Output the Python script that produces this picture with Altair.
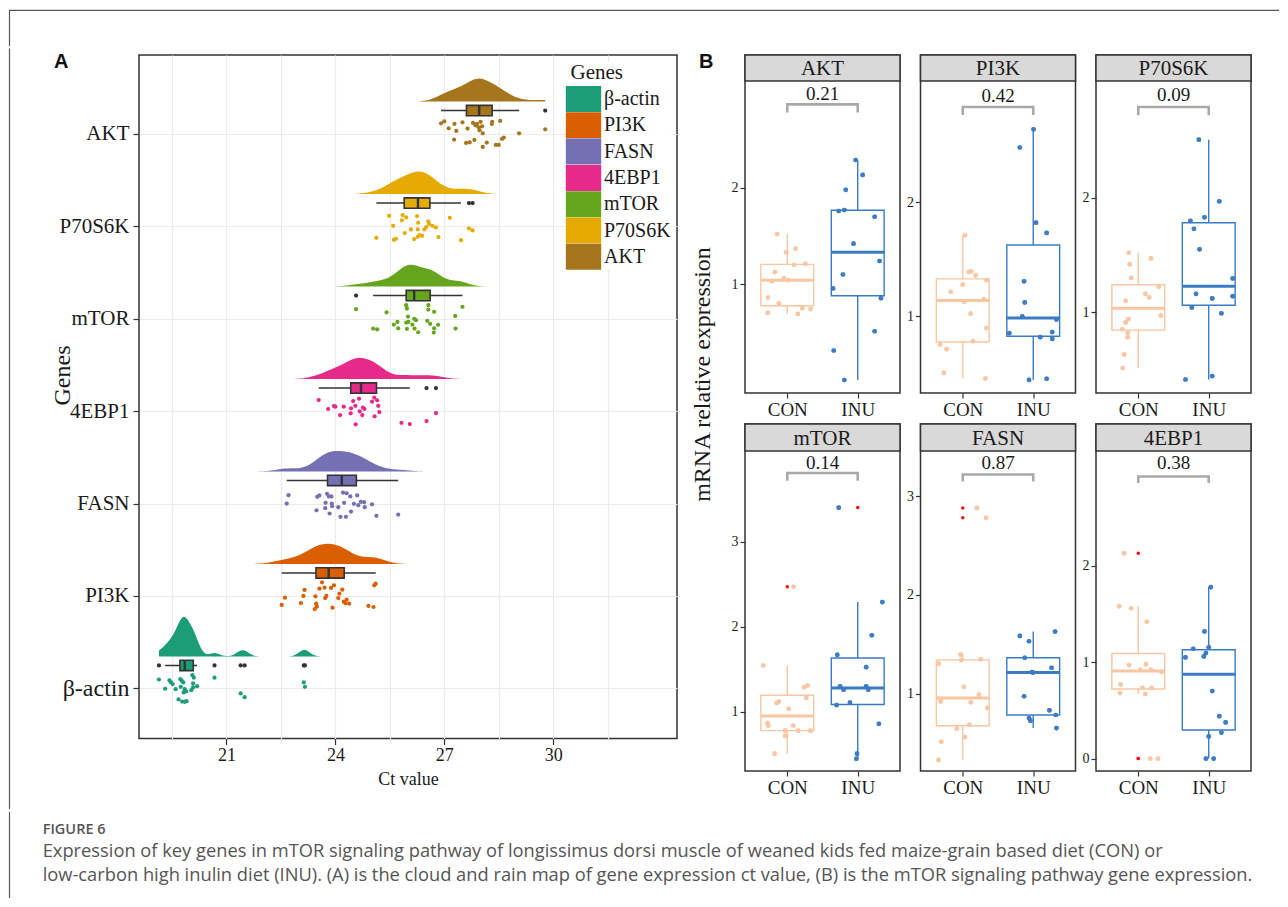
import json
import altair as alt
import pandas as pd

SERIF = "Liberation Serif"
SANS = "Liberation Sans"
INK = "#1a1a1a"
DARK = "#333333"

# ---------------- Panel A: Ct values ----------------
GENES_A = ["β-actin", "PI3K", "FASN", "4EBP1", "mTOR", "P70S6K", "AKT"]
COLORS_A = ["#1B9E77", "#D95F02", "#7570B3", "#E7298A", "#66A61E", "#E6AB02", "#A6761D"]

AKT_CT = [26.91, 27.00, 27.12, 27.28, 27.33, 27.50, 27.64, 27.27, 27.60, 27.70, 27.83, 27.79, 27.86, 27.90, 28.00,
          27.95, 28.04, 27.97, 28.06, 28.17, 28.06, 28.32, 28.31, 28.54, 28.59, 28.64, 28.42, 28.50, 29.06, 29.78]
AKT_JIT = [0.111, 0.133, 0.057, 0.105, 0.029, 0.122, 0.054, -0.065, -0.101, -0.094, -0.068, 0.116, 0.090, 0.105, 0.127,
           0.068, 0.079, 0.036, 0.003, -0.097, -0.144, 0.127, 0.105, 0.137, -0.057, -0.043, -0.122, -0.122, 0.003, 0.047]
P70_CT = [25.48, 25.85, 25.95, 26.25, 25.83, 25.59, 26.28, 26.56, 26.58, 26.50, 26.67, 26.77, 27.15, 26.08, 26.27,
          26.45, 25.91, 25.13, 25.61, 25.67, 26.17, 26.27, 26.32, 26.39, 26.84, 27.46, 27.68, 27.78]
P70_JIT = [0.111, 0.119, 0.094, 0.108, 0.062, 0.003, 0.036, 0.051, 0.022, -0.011, 0.003, -0.014, 0.090, -0.036, -0.036,
           -0.036, -0.076, -0.127, -0.148, -0.137, -0.141, -0.116, -0.097, -0.105, -0.119, -0.152, -0.025, -0.047]
MTOR_CT = [24.57, 25.41, 25.04, 25.15, 25.61, 25.71, 25.73, 25.95, 25.97, 26.00, 25.95, 26.01, 25.97, 26.12, 26.17,
           26.22, 26.18, 26.28, 26.56, 26.56, 26.72, 26.53, 26.61, 26.83, 26.72, 26.71, 27.30, 27.50, 27.31]
MTOR_JIT = [0.101, 0.068, -0.108, -0.116, -0.065, -0.036, -0.105, 0.144, 0.108, 0.022, -0.043, -0.036, -0.111, -0.065,
            -0.003, -0.018, -0.108, -0.148, 0.144, 0.097, 0.073, -0.025, -0.057, -0.068, -0.105, -0.152, 0.029, 0.127, -0.108]
EBP_CT = [23.54, 23.80, 23.96, 24.00, 24.13, 24.23, 24.43, 24.42, 24.49, 24.55, 24.65, 24.67, 24.74, 24.76, 24.80,
          24.56, 25.01, 25.07, 25.15, 25.18, 25.21, 25.08, 25.82, 26.05, 26.51, 26.77]
EBP_JIT = [0.119, 0.022, 0.054, 0.047, -0.043, 0.047, 0.029, -0.025, 0.108, 0.057, 0.133, -0.003, -0.043, 0.036, 0.022,
           -0.144, 0.101, 0.144, 0.116, 0.057, -0.011, -0.057, -0.127, -0.141, -0.108, -0.022]
FASN_CT = [22.71, 22.66, 23.50, 23.56, 23.77, 23.82, 23.89, 24.21, 24.31, 24.41, 24.60, 23.73, 23.90, 23.91, 23.72,
           23.48, 23.84, 24.08, 24.24, 24.43, 24.51, 24.63, 24.70, 24.79, 24.81, 25.01, 24.14, 24.29, 25.13, 25.73]
FASN_JIT = [0.090, 0.000, 0.073, 0.087, 0.105, 0.076, 0.076, 0.119, 0.111, 0.076, 0.087, 0.008, 0.000, -0.029, -0.051,
            -0.073, -0.108, -0.040, 0.008, -0.087, -0.003, -0.018, 0.018, 0.014, -0.040, -0.008, -0.144, -0.144, -0.133, -0.119]
PI3K_CT = [22.52, 22.61, 23.05, 23.12, 23.15, 23.45, 23.49, 23.47, 23.56, 23.63, 23.70, 23.75, 23.72, 23.88, 23.96,
           23.92, 24.08, 24.11, 24.19, 24.23, 24.31, 24.38, 24.28, 24.91, 25.05, 25.07, 25.11, 23.43]
PI3K_JIT = [-0.097, -0.018, -0.076, 0.000, 0.065, -0.003, -0.116, -0.083, 0.079, 0.148, 0.090, 0.000, -0.022, 0.087,
            0.116, -0.127, -0.022, 0.025, 0.068, -0.062, -0.040, -0.083, -0.079, -0.108, -0.119, 0.116, 0.133, -0.141]
ACT_CT = [19.14, 19.43, 19.47, 19.52, 19.31, 19.60, 19.73, 19.77, 19.81, 19.74, 19.85, 19.82, 19.89, 19.68, 19.78,
          19.85, 19.90, 20.03, 20.08, 20.06, 20.10, 20.08, 20.19, 20.67, 21.39, 21.50, 23.13, 23.16]
ACT_JIT = [0.097, 0.087, 0.065, 0.047, -0.003, -0.008, 0.101, 0.083, 0.065, 0.018, -0.008, -0.043, -0.032, -0.119,
           -0.141, -0.144, -0.137, -0.018, 0.011, 0.144, 0.116, 0.054, 0.025, 0.116, -0.054, -0.094, 0.065, 0.018]

X_TICKS_A = [19.5, 21, 22.5, 24, 25.5, 27, 28.5, 30, 31.5]

# ---------------- Panel B: relative expression ----------------
GENES_B = ["AKT", "PI3K", "P70S6K", "mTOR", "FASN", "4EBP1"]
GROUPS = ["CON", "INU"]
P_VALUES = ["0.21", "0.42", "0.09", "0.14", "0.87", "0.38"]
Y_LO = [-0.132, 0.325, 0.292, 0.306, 0.22, -0.129]
Y_HI = [3.111, 3.064, 3.024, 4.064, 3.456, 3.192]
Y_TICKS = [[1, 2], [1, 2], [1, 2], [1, 2, 3], [1, 2, 3], [0, 1, 2]]
BRACKET_Y = [2.868, 2.836, 2.796, 3.805, 3.219, 2.928]
BRACKET_TIP = [2.784, 2.765, 2.725, 3.714, 3.148, 2.860]
PLABEL_Y = [2.976, 2.930, 2.900, 3.920, 3.334, 3.068]

AKT_CON = [1.52, 1.33, 1.37, 1.125, 1.03, 1.06, 1.04, 1.20, 1.21, 0.86, 0.80, 0.70, 0.69, 0.75, 0.74]
AKT_CON_J = [-0.144, -0.016, 0.118, -0.176, -0.219, -0.048, 0.016, 0.096, 0.257, -0.273, -0.118, -0.278, 0.150, 0.214, 0.332]
AKT_INU = [2.29, 2.135, 1.98, 1.76, 1.77, 1.70, 1.42, 1.24, 1.10, 0.955, 0.854, 0.51, 0.31, 0.003]
AKT_INU_J = [-0.03, 0.07, -0.17, -0.27, -0.19, 0.24, -0.06, 0.31, -0.21, -0.35, 0.33, 0.24, -0.34, -0.19]
PI3K_CON = [1.710, 1.393, 1.387, 1.358, 1.317, 1.276, 1.214, 1.147, 1.126, 1.021, 0.894, 0.780, 0.751, 0.710, 0.501, 0.452]
PI3K_CON_J = [0.032, 0.118, 0.086, 0.182, 0.337, 0.0, -0.171, 0.299, 0.021, 0.112, 0.337, 0.144, -0.321, -0.230, -0.267, 0.321]
PI3K_INU = [2.64, 2.48, 1.82, 1.73, 1.305, 1.12, 0.997, 0.97, 0.85, 0.86, 0.815, 0.80, 0.44, 0.45]
PI3K_INU_J = [0.005, -0.19, 0.04, 0.19, -0.13, -0.12, -0.155, 0.33, -0.34, 0.27, 0.10, 0.27, -0.06, 0.19]
P70_CON = [1.52, 1.47, 1.42, 1.30, 1.22, 1.16, 1.13, 1.10, 0.97, 0.94, 0.91, 0.85, 0.82, 0.78, 0.63, 0.51]
P70_CON_J = [-0.134, 0.18, -0.123, -0.10, 0.29, 0.10, 0.155, -0.18, 0.32, -0.14, -0.18, -0.225, -0.15, -0.15, -0.20, -0.22]
P70_INU = [2.51, 1.97, 1.80, 1.83, 1.73, 1.55, 1.295, 1.16, 1.12, 1.14, 1.04, 0.99, 0.41, 0.44]
P70_INU_J = [-0.14, 0.15, -0.26, -0.06, -0.21, -0.13, 0.34, -0.18, 0.05, 0.34, -0.24, 0.18, -0.33, 0.05]
MTOR_CON = [1.545, 2.47, 1.29, 1.31, 1.165, 1.105, 1.12, 1.035, 0.87, 0.84, 0.84, 0.78, 0.78, 0.78, 0.72, 0.51]
MTOR_CON_J = [-0.34, 0.09, 0.24, 0.29, 0.27, -0.15, -0.12, 0.02, -0.28, -0.27, 0.085, -0.03, 0.155, 0.33, -0.03, -0.18]
MTOR_INU = [3.40, 2.29, 1.90, 1.67, 1.525, 1.30, 1.26, 1.30, 1.26, 1.11, 1.08, 0.86, 0.51, 0.45]
MTOR_INU_J = [-0.27, 0.35, 0.20, -0.29, 0.12, -0.25, -0.20, 0.12, 0.15, -0.11, -0.30, 0.30, -0.01, -0.02]
FASN_CON = [2.88, 2.78, 1.305, 1.397, 1.342, 1.349, 1.071, 0.925, 0.993, 0.915, 0.858, 0.688, 0.647, 0.563, 0.515, 0.332]
FASN_CON_J = [0.2, 0.33, -0.343, -0.03, -0.02, 0.257, 0.014, -0.314, 0.229, 0.114, 0.348, 0.095, -0.086, 0.029, -0.305, -0.343]
FASN_INU = [1.63, 1.586, 1.532, 1.365, 1.264, 1.22, 1.215, 0.976, 0.834, 0.786, 0.756, 0.729, 0.654]
FASN_INU_J = [0.31, -0.19, -0.06, -0.12, 0.26, -0.02, 0.0, -0.13, 0.23, 0.32, -0.06, -0.04, 0.33]
EBP_CON = [2.13, 1.58, 1.56, 1.42, 0.97, 0.98, 0.92, 0.92, 0.90, 0.77, 0.735, 0.735, 0.68, 0.67, 0.0, 0.0]
EBP_CON_J = [-0.20, -0.27, -0.10, 0.12, -0.13, 0.11, 0.03, 0.18, 0.33, -0.25, 0.06, 0.19, -0.26, 0.10, 0.17, 0.28]
EBP_INU = [1.78, 1.32, 1.14, 1.155, 1.05, 1.06, 1.095, 0.70, 0.44, 0.375, 0.23, 0.27, 0.0, 0.0]
EBP_INU_J = [0.03, -0.06, -0.22, 0.0, -0.33, -0.07, -0.04, 0.05, 0.15, 0.24, 0.0, 0.18, -0.04, 0.07]

CAPTION_TITLE = "FIGURE 6"
CAPTION_LINES = [
    "Expression of key genes in mTOR signaling pathway of longissimus dorsi muscle of weaned kids fed maize-grain based diet (CON) or",
    "low-carbon high inulin diet (INU). (A) is the cloud and rain map of gene expression ct value, (B) is the mTOR signaling pathway gene expression.",
]

# ---------------- build tables ----------------
rowsA = []
for g, cts, jits in [("AKT", AKT_CT, AKT_JIT), ("P70S6K", P70_CT, P70_JIT), ("mTOR", MTOR_CT, MTOR_JIT),
                     ("4EBP1", EBP_CT, EBP_JIT), ("FASN", FASN_CT, FASN_JIT), ("PI3K", PI3K_CT, PI3K_JIT),
                     ("β-actin", ACT_CT, ACT_JIT)]:
    for c, j in zip(cts, jits):
        rowsA.append({"gene": g, "ct": c, "jit": j})
dfA = pd.DataFrame(rowsA)

B_SERIES = {
    "AKT": (AKT_CON, AKT_CON_J, AKT_INU, AKT_INU_J),
    "PI3K": (PI3K_CON, PI3K_CON_J, PI3K_INU, PI3K_INU_J),
    "P70S6K": (P70_CON, P70_CON_J, P70_INU, P70_INU_J),
    "mTOR": (MTOR_CON, MTOR_CON_J, MTOR_INU, MTOR_INU_J),
    "FASN": (FASN_CON, FASN_CON_J, FASN_INU, FASN_INU_J),
    "4EBP1": (EBP_CON, EBP_CON_J, EBP_INU, EBP_INU_J),
}
rowsB = []
for g, (cv, cj, iv, ij) in B_SERIES.items():
    for v, j in zip(cv, cj):
        rowsB.append({"gene": g, "grp": "CON", "g": 1, "val": v, "jit": j})
    for v, j in zip(iv, ij):
        rowsB.append({"gene": g, "grp": "INU", "g": 2, "val": v, "jit": j})
dfB = pd.DataFrame(rowsB)
one = pd.DataFrame({"k": [0]})

# ---------------- Panel A ----------------
WA, HA = 538, 683.5
DENS_OFF, DENS_K = 0.346, 0.38
BOX_OFF, BOX_HALF = 0.249, 0.056
genes_js = json.dumps(GENES_A, ensure_ascii=False)

fill_scale = alt.Scale(domain=GENES_A, range=COLORS_A)
x_scale_a = alt.Scale(domain=[18.59, 33.41], nice=False, zero=False)
y_scale_a = alt.Scale(domain=[0.459, 7.85], nice=False, zero=False)

x_axis_a = alt.Axis(values=X_TICKS_A, labelExpr="datum.value % 3 == 0 ? datum.label : ''",
                    tickOpacity={"condition": {"test": "datum.value % 3 == 0", "value": 1}, "value": 0},
                    tickSize=6, tickColor=DARK, tickWidth=1.2, domain=False,
                    grid=True, gridColor="#EBEBEB", gridWidth=1.2,
                    labelFont=SERIF, labelFontSize=18, labelColor=INK, labelPadding=2,
                    titleFont=SERIF, titleFontSize=18, titleFontWeight="normal", titleColor=INK, titlePadding=6)
y_axis_a = alt.Axis(values=list(range(1, len(GENES_A) + 1)),
                    labelExpr=f"{genes_js}[datum.value - 1]",
                    labelFontSize={"condition": {"test": "datum.value == 1", "value": 24}, "value": 21},
                    tickSize=6, tickColor=DARK, tickWidth=1.2, domain=False,
                    grid=True, gridColor="#EBEBEB", gridWidth=1.2,
                    labelFont=SERIF, labelColor=INK, labelPadding=4,
                    titleFont=SERIF, titleFontSize=24, titleFontWeight="normal", titleColor=INK,
                    titleAngle=270, titleBaseline="alphabetic", titleX=-70, titleY=320)

# the fill legend is shared across the concatenation, so its position is in top-level coordinates
legend_a = alt.Legend(orient="none", legendX=431.5, legendY=54, direction="vertical", values=GENES_A,
                      title="Genes", titleFont=SERIF, titleFontSize=21, titleFontWeight="normal", titleColor=INK,
                      titlePadding=3, labelFont=SERIF, labelFontSize=20, labelColor=INK, labelOffset=7.5,
                      symbolType="M-1.36,-1H1.36V1H-1.36Z", symbolSize=676, symbolStrokeWidth=0, symbolOpacity=1,
                      rowPadding=0.3, padding=0, fillColor="white")

XT, YT = "Ct value", "Genes"
FILL = alt.Fill("gene:N", scale=fill_scale, legend=legend_a)
baseA = alt.Chart(dfA).transform_calculate(idx=f"indexof({genes_js}, datum.gene) + 1")

rainA = baseA.transform_calculate(yj="datum.idx + datum.jit").mark_circle(size=18, opacity=1).encode(
    x=alt.X("ct:Q", scale=x_scale_a, axis=x_axis_a, title=XT),
    y=alt.Y("yj:Q", scale=y_scale_a, axis=y_axis_a, title=YT),
    fill=FILL)

dens = baseA.transform_density(
    "ct", groupby=["gene", "idx"], as_=["ct", "dens"], steps=200
).transform_calculate(
    yb=f"datum.idx + {DENS_OFF}", yt=f"datum.idx + {DENS_OFF} + datum.dens * {DENS_K}"
).mark_area(opacity=1).encode(
    x=alt.X("ct:Q", scale=x_scale_a, title=XT),
    y=alt.Y("yb:Q", scale=y_scale_a, title=YT),
    y2="yt:Q",
    fill=FILL,
    detail="gene:N",
)

statsA = baseA.transform_joinaggregate(
    q1="q1(ct)", q3="q3(ct)", med="median(ct)", groupby=["gene"]
).transform_calculate(
    lo="datum.q1 - 1.5 * (datum.q3 - datum.q1)",
    hi="datum.q3 + 1.5 * (datum.q3 - datum.q1)",
).transform_calculate(
    inr="datum.ct >= datum.lo && datum.ct <= datum.hi ? datum.ct : null"
)
boxA = statsA.transform_aggregate(
    q1="min(q1)", q3="min(q3)", med="min(med)", wlo="min(inr)", whi="max(inr)", idx="min(idx)", groupby=["gene"]
).transform_calculate(
    yc=f"datum.idx + {BOX_OFF}", yb=f"datum.idx + {BOX_OFF - BOX_HALF}", yt=f"datum.idx + {BOX_OFF + BOX_HALF}"
)
whiskA = boxA.mark_rule(color=DARK, strokeWidth=1.5).encode(
    x=alt.X("wlo:Q", scale=x_scale_a, title=XT), x2="whi:Q",
    y=alt.Y("yc:Q", scale=y_scale_a, title=YT))
rectA = boxA.mark_rect(stroke=DARK, strokeWidth=1.6).encode(
    x=alt.X("q1:Q", scale=x_scale_a, title=XT), x2="q3:Q",
    y=alt.Y("yb:Q", scale=y_scale_a, title=YT), y2="yt:Q",
    fill=FILL)
medA = boxA.mark_rule(color=DARK, strokeWidth=2.4).encode(
    x=alt.X("med:Q", scale=x_scale_a, title=XT),
    y=alt.Y("yb:Q", scale=y_scale_a, title=YT), y2="yt:Q")
outA = statsA.transform_filter("datum.ct < datum.lo || datum.ct > datum.hi").transform_calculate(
    yc=f"datum.idx + {BOX_OFF}"
).mark_circle(size=18, opacity=1, color=DARK).encode(
    x=alt.X("ct:Q", scale=x_scale_a, title=XT),
    y=alt.Y("yc:Q", scale=y_scale_a, title=YT))

labelA = alt.Chart(one).mark_text(text="A", align="left", baseline="top", font=SANS, fontWeight="bold",
                                  fontSize=20, color="#111111").encode(x=alt.value(-85), y=alt.value(-3))
frameA = alt.Chart(one).mark_rule(color="#555555", strokeWidth=1.2).encode(
    x=alt.value(-129.5), y=alt.value(-6.5), y2=alt.value(754))

panelA = alt.layer(rainA, dens, whiskA, rectA, medA, outA, labelA, frameA).properties(
    width=WA, height=HA, view=alt.ViewBackground(fill="white", stroke=DARK, strokeWidth=1.5))

# ---------------- Panel B ----------------
WB = 155
CON_COL, INU_COL = "#F8C6A2", "#3B7BC3"
grp_scale = alt.Scale(domain=GROUPS, range=[CON_COL, INU_COL])
groups_js = json.dumps(GROUPS)


def cell(i, strip_h, plot_h):
    gene = GENES_B[i]
    H = strip_h + plot_h
    d = dfB[dfB.gene == gene].reset_index(drop=True)
    ys = alt.Scale(domain=[Y_LO[i], Y_HI[i]], range=[H, strip_h], nice=False, zero=False)
    xs = alt.Scale(domain=[0.4, 2.6], nice=False, zero=False)
    x_axis = alt.Axis(values=[1, 2], labelExpr=f"{groups_js}[datum.value - 1]", grid=False,
                      domain=False, tickSize=5, tickColor=DARK, tickWidth=1.2,
                      labelFont=SERIF, labelFontSize=19, labelColor=INK, labelPadding=2)
    y_axis = alt.Axis(values=Y_TICKS[i], format="d", grid=False, domain=False, tickSize=5, tickColor=DARK,
                      tickWidth=1.2, labelFont=SERIF, labelFontSize=14, labelColor=INK, labelPadding=2)
    base = alt.Chart(d)
    stats = base.transform_joinaggregate(
        q1="q1(val)", q3="q3(val)", med="median(val)", groupby=["grp"]
    ).transform_calculate(
        lo="datum.q1 - 1.5 * (datum.q3 - datum.q1)",
        hi="datum.q3 + 1.5 * (datum.q3 - datum.q1)",
    ).transform_calculate(
        inr="datum.val >= datum.lo && datum.val <= datum.hi ? datum.val : null"
    )
    box = stats.transform_aggregate(
        q1="min(q1)", q3="min(q3)", med="min(med)", wlo="min(inr)", whi="max(inr)", g="min(g)", groupby=["grp"]
    ).transform_calculate(xl="datum.g - 0.375", xr="datum.g + 0.375")

    color = alt.Color("grp:N", scale=grp_scale, legend=None)
    X = lambda f, **kw: alt.X(f, scale=xs, title=None, **kw)
    Y = lambda f, **kw: alt.Y(f, scale=ys, title=None, **kw)

    pts = base.transform_calculate(xj="datum.g + datum.jit").mark_circle(size=22, opacity=0.88).encode(
        x=X("xj:Q", axis=x_axis), y=Y("val:Q", axis=y_axis), color=color)
    w_lo = box.mark_rule(strokeWidth=1.4).encode(x=X("g:Q"), y=Y("wlo:Q"), y2="q1:Q", color=color)
    w_hi = box.mark_rule(strokeWidth=1.4).encode(x=X("g:Q"), y=Y("q3:Q"), y2="whi:Q", color=color)
    rect = box.mark_rect(filled=False, strokeWidth=1.4).encode(
        x=X("xl:Q"), x2="xr:Q", y=Y("q1:Q"), y2="q3:Q", color=color)
    med = box.mark_rule(strokeWidth=3).encode(x=X("xl:Q"), x2="xr:Q", y=Y("med:Q"), color=color)
    outl = stats.transform_filter("datum.val < datum.lo || datum.val > datum.hi").mark_circle(
        size=12, opacity=1, color="#FF0000").encode(x=X("g:Q"), y=Y("val:Q"))

    brk_df = pd.DataFrame({"bx": [1, 1, 2, 2],
                           "by": [BRACKET_TIP[i], BRACKET_Y[i], BRACKET_Y[i], BRACKET_TIP[i]],
                           "o": [0, 1, 2, 3]})
    brk = alt.Chart(brk_df).mark_line(color="#A9A9A9", strokeWidth=2.6).encode(
        x=X("bx:Q"), y=Y("by:Q"), order="o:Q")
    ptxt = alt.Chart(pd.DataFrame({"px": [1.5], "py": [PLABEL_Y[i]], "p": [P_VALUES[i]]})).mark_text(
        font=SERIF, fontSize=19, color=INK, baseline="middle").encode(x=X("px:Q"), y=Y("py:Q"), text="p:N")

    strip = alt.Chart(one).mark_rect(fill="#D9D9D9", stroke=DARK, strokeWidth=1.5).encode(
        x=alt.value(0), x2=alt.value(WB), y=alt.value(0), y2=alt.value(strip_h))
    strip_txt = alt.Chart(one).mark_text(text=gene, font=SERIF, fontSize=21, color=INK, baseline="middle").encode(
        x=alt.value(WB / 2), y=alt.value(strip_h / 2 + 1))
    pad_top = alt.Chart(one).mark_rule(opacity=0).encode(x=alt.value(0), y=alt.value(-3), y2=alt.value(0))

    return alt.layer(pts, w_lo, w_hi, rect, med, outl, pts, brk, ptxt, strip, strip_txt, pad_top).properties(
        width=WB, height=H, view=alt.ViewBackground(fill="white", stroke=DARK, strokeWidth=1.5))


row_b1 = alt.hconcat(cell(0, 26, 312), cell(1, 26, 312), cell(2, 26, 312), spacing=3.5)
row_b2 = alt.hconcat(cell(3, 27, 320), cell(4, 27, 320), cell(5, 27, 320), spacing=3.5)
gridB = alt.vconcat(row_b1, row_b2, spacing=0)

labelB = alt.Chart(one).mark_text(text="B", align="left", baseline="top", font=SANS, fontWeight="bold",
                                  fontSize=20, color="#111111").encode(x=alt.value(3), y=alt.value(-3))
titleB_txt = alt.Chart(one).mark_text(text="mRNA relative expression", angle=270, align="center",
                                      baseline="alphabetic", font=SERIF, fontSize=24, color=INK).encode(
    x=alt.value(14), y=alt.value(319.5))
titleB = alt.layer(labelB, titleB_txt).properties(width=24, height=718.5)

row1 = alt.hconcat(panelA, alt.hconcat(titleB, gridB, spacing=10), spacing=13)

# ---------------- frame + caption (origin = left edge of panel A plot) ----------------
X0 = -129.5          # frame line, relative to panel A plot
RIGHT = 1140
ROW0_H = 38.2
top_rule = alt.Chart(one).mark_rule(color="#555555", strokeWidth=1.2).encode(
    x=alt.value(X0 - 0.5), x2=alt.value(RIGHT), y=alt.value(2.3))
left0 = alt.Chart(one).mark_rule(color="#555555", strokeWidth=1.2).encode(
    x=alt.value(X0), y=alt.value(2.3), y2=alt.value(ROW0_H))
row0 = alt.layer(top_rule, left0).properties(width=RIGHT, height=ROW0_H)

CAP_H = 86
CAP_X = -96.3
CAP_FONT = "Open Sans"
left2 = alt.Chart(one).mark_rule(color="#555555", strokeWidth=1.2).encode(
    x=alt.value(X0), y=alt.value(0), y2=alt.value(CAP_H))
cap_title = alt.Chart(one).mark_text(text=CAPTION_TITLE, align="left", baseline="middle", font=CAP_FONT,
                                     fontSize=14.5, fontWeight=600, color="#555555").encode(
    x=alt.value(CAP_X), y=alt.value(18))
cap_l1 = alt.Chart(one).mark_text(text=CAPTION_LINES[0], align="left", baseline="middle", font=CAP_FONT,
                                  fontSize=18.3, color="#555555").encode(x=alt.value(CAP_X), y=alt.value(40))
cap_l2 = alt.Chart(one).mark_text(text=CAPTION_LINES[1], align="left", baseline="middle", font=CAP_FONT,
                                  fontSize=18.3, color="#555555").encode(x=alt.value(CAP_X), y=alt.value(64))
row2 = alt.layer(left2, cap_title, cap_l1, cap_l2).properties(width=RIGHT, height=CAP_H)

chart = alt.vconcat(row0, row1, row2, spacing=0).properties(padding=0).configure_view(stroke=None)

chart.save("out.html", embed_options={"renderer": "svg", "actions": False})
